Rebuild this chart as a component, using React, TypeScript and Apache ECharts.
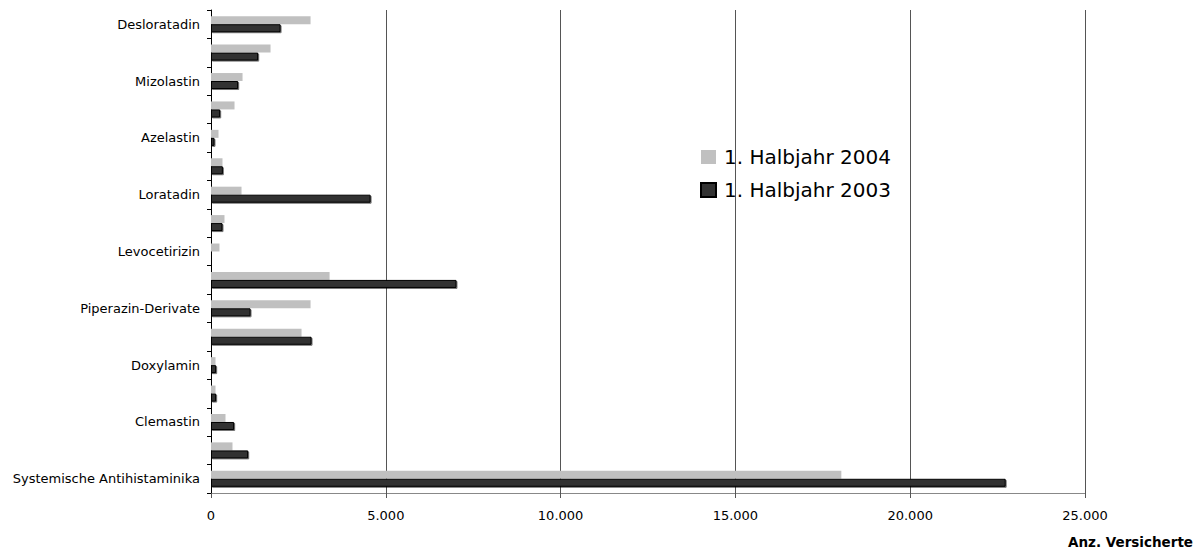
import React, { useEffect, useRef } from "react";
import * as echarts from "echarts";

// categories from bottom to top (only every other one is labelled in the reference)
const categories = [
  "Systemische Antihistaminika",
  "Dimetinden",
  "Clemastin",
  "Dimenhydrinat",
  "Doxylamin",
  "Hydroxyzin",
  "Piperazin-Derivate",
  "Cetirizin",
  "Levocetirizin",
  "Ebastin",
  "Loratadin",
  "Terfenadin",
  "Azelastin",
  "Ketotifen",
  "Mizolastin",
  "Fexofenadin",
  "Desloratadin",
];

const series2003 = [22730, 1064, 663, 148, 148, 2876, 1131, 7022, 0, 329, 4565, 339, 100, 263, 778, 1350, 1990];
const series2004 = [18030, 615, 415, 129, 129, 2590, 2848, 3392, 243, 386, 873, 329, 215, 673, 902, 1703, 2848];

const xTicks = [0, 5000, 10000, 15000, 20000, 25000];

const fmt = (v: number) => String(v).replace(/\B(?=(\d{3})+(?!\d))/g, ".");

export default function App() {
  const ref = useRef<HTMLDivElement>(null);
  useEffect(() => {
    if (!ref.current) return;
    const chart = echarts.init(ref.current, undefined, { renderer: "svg" });
    const font = "'DejaVu Sans', sans-serif";
    chart.setOption({
      animation: false,
      textStyle: { fontFamily: font },
      grid: { left: 211, top: 10, right: 118, bottom: 57, containLabel: false },
      legend: {
        orient: "vertical",
        left: 695,
        top: 142,
        icon: "rect",
        itemWidth: 15,
        itemHeight: 14,
        itemGap: 13,
        data: ["1. Halbjahr 2004", "1. Halbjahr 2003"],
        textStyle: { fontSize: 20, color: "#000", fontFamily: font, padding: [0, 0, 0, 3] },
      },
      xAxis: {
        type: "value",
        min: xTicks[0],
        max: xTicks[xTicks.length - 1],
        interval: 5000,
        axisLine: { show: true, lineStyle: { color: "#888", width: 1 } },
        axisTick: { show: true, length: 5, lineStyle: { color: "#555" } },
        axisLabel: { formatter: (v: number) => fmt(v), color: "#000", fontSize: 13, margin: 16, fontFamily: font },
        splitLine: { show: true, lineStyle: { color: "#555", width: 1 } },
      },
      yAxis: {
        type: "category",
        data: categories,
        axisLine: { show: true, lineStyle: { color: "#000", width: 1 } },
        axisTick: { show: true, interval: 0, length: 4, inside: false, lineStyle: { color: "#000" } },
        axisLabel: { interval: 1, color: "#000", fontSize: 13, margin: 11, fontFamily: font },
        splitLine: { show: false },
      },
      graphic: [
        {
          type: "text",
          right: 10,
          top: 535,
          style: { text: "Anz. Versicherte", fontSize: 13.5, fontWeight: "bold", fill: "#000", fontFamily: font },
        },
      ],
      series: [
        {
          name: "1. Halbjahr 2004",
          type: "bar",
          data: series2004,
          barWidth: 8,
          barGap: "0%",
          itemStyle: { color: "#c0c0c0" },
        },
        {
          name: "1. Halbjahr 2003",
          type: "bar",
          data: series2003,
          barWidth: 8,
          barGap: "0%",
          itemStyle: {
            color: "#333333",
            borderColor: "#000",
            borderWidth: 1,
            shadowColor: "rgba(0,0,0,0.55)",
            shadowOffsetX: 1,
            shadowOffsetY: 1,
            shadowBlur: 0,
          },
        },
      ],
    });
    return () => chart.dispose();
  }, []);
  return <div ref={ref} style={{ position: "fixed", left: 0, top: 0, width: 1203, height: 550, background: "#fff" }} />;
}
